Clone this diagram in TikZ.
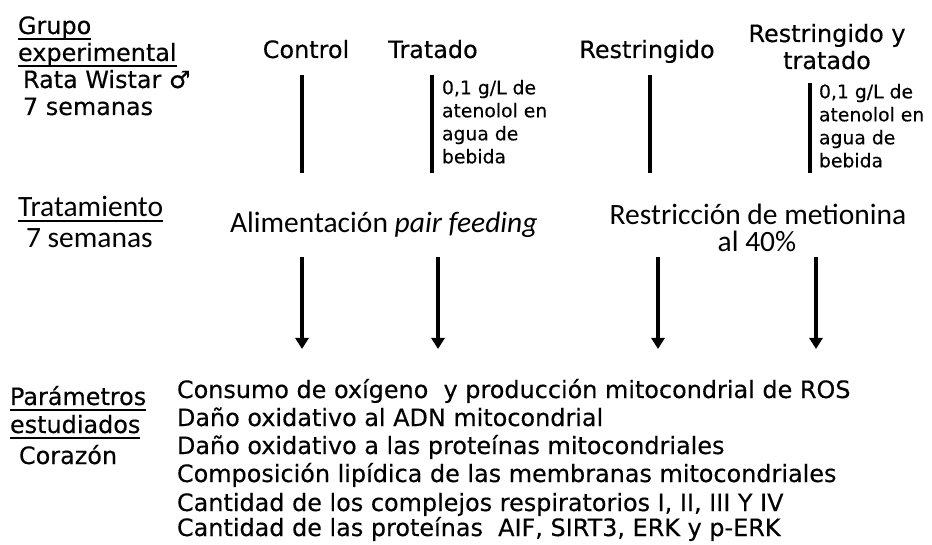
\documentclass[tikz,border=0pt]{standalone}
\usepackage{fontspec}
\setmainfont{DejaVu Sans}[FakeBold=0.3]
\newfontfamily\calfont{Carlito}
\usetikzlibrary{arrows.meta}
\begin{document}
\begin{tikzpicture}[x=1pt,y=-1pt,
  txt/.style={inner sep=0pt, outer sep=0pt, anchor=base west, font=\fontsize{23.9}{28}\selectfont},
  ctxt/.style={txt, anchor=base},
  small/.style={inner sep=0pt, outer sep=0pt, anchor=north west, align=left, font=\fontsize{18.8}{23}\selectfont},
  cal/.style={inner sep=0pt, outer sep=0pt, anchor=base west, font=\calfont\fontsize{29.5}{31}\selectfont},
  ccal/.style={cal, anchor=base},
  bar/.style={line width=3.2pt},
  arr/.style={line width=3.2pt, -{Triangle[width=13pt,length=11pt]}},
  uline/.style={line width=1.6pt}]
\useasboundingbox (0,0) rectangle (932,545);

% left column headings
\node[txt] (g1) at (18,34) {Grupo};
\node[txt] (g2) at (18,61) {experimental};
\node[txt] (rata) at (23,88) {Rata Wistar ♂};
\node[txt] (sem1) at (23,115) {7 semanas};
\draw[uline] ([yshift=-5pt]g1.base west) -- ([yshift=-5pt]g1.base east);
\draw[uline] ([yshift=-5pt]g2.base west) -- ([yshift=-5pt]g2.base east);

% group titles
\node[ctxt] (control) at (306,58) {Control};
\node[ctxt] (tratado) at (433,58) {Tratado};
\node[ctxt] (restr) at (647,58) {Restringido};
\node[ctxt] (ryt1) at (827,42) {Restringido y};
\node[ctxt] (ryt2) at (827,69) {tratado};

% vertical bars
\coordinate (b1t) at (302,75); \coordinate (b1b) at (302,173);
\coordinate (b2t) at (432,75); \coordinate (b2b) at (432,173);
\coordinate (b3t) at (650,75); \coordinate (b3b) at (650,173);
\coordinate (b4t) at (810,83); \coordinate (b4b) at (810,173);
\draw[bar] (b1t) -- (b1b);
\draw[bar] (b2t) -- (b2b);
\draw[bar] (b3t) -- (b3b);
\draw[bar] (b4t) -- (b4b);

% atenolol notes
\node[small] (aten1) at (442,80) {0,1 g/L de\\atenolol en\\agua de\\bebida};
\node[small] (aten2) at (819,84) {0,1 g/L de\\atenolol en\\agua de\\bebida};

% treatment
\node[cal] (trat) at (18,217) {Tratamiento};
\node[cal] (sem2) at (26,248) {7 semanas};
\draw[uline] ([yshift=-4pt]trat.base west) -- ([yshift=-4pt]trat.base east);
\node[cal] (alim) at (230,233) {Alimentación \textit{pair feeding}};
\node[ccal] (met1) at (758,225) {Restricción de metionina};
\node[ccal] (met2) at (757,252) {al 40\%};

% arrows
\coordinate (a1t) at (302,257); \coordinate (a1b) at (302,349);
\coordinate (a2t) at (438,257); \coordinate (a2b) at (438,349);
\coordinate (a3t) at (658,257); \coordinate (a3b) at (658,349);
\coordinate (a4t) at (816,257); \coordinate (a4b) at (816,349);
\draw[arr] (a1t) -- (a1b);
\draw[arr] (a2t) -- (a2b);
\draw[arr] (a3t) -- (a3b);
\draw[arr] (a4t) -- (a4b);

% parameters
\node[txt] (p1) at (10,405) {Parámetros};
\node[txt] (p2) at (10,433) {estudiados};
\node[txt] (cor) at (19,464) {Corazón};
\draw[uline] ([yshift=-5pt]p1.base west) -- ([yshift=-5pt]p1.base east);
\draw[uline] ([yshift=-5pt]p2.base west) -- ([yshift=-5pt]p2.base east);

\node[txt] (l1) at (177,398) {Consumo de oxígeno\ \ y producción mitocondrial de ROS};
\node[txt] (l2) at (177,426) {Daño oxidativo al ADN mitocondrial};
\node[txt] (l3) at (177,454) {Daño oxidativo a las proteínas mitocondriales};
\node[txt] (l4) at (177,482) {Composición lipídica de las membranas mitocondriales};
\node[txt] (l5) at (177,511) {Cantidad de los complejos respiratorios I, II, III Y IV};
\node[txt] (l6) at (177,536) {Cantidad de las proteínas\ \ AIF, SIRT3, ERK y p-ERK};
\end{tikzpicture}
\end{document}
